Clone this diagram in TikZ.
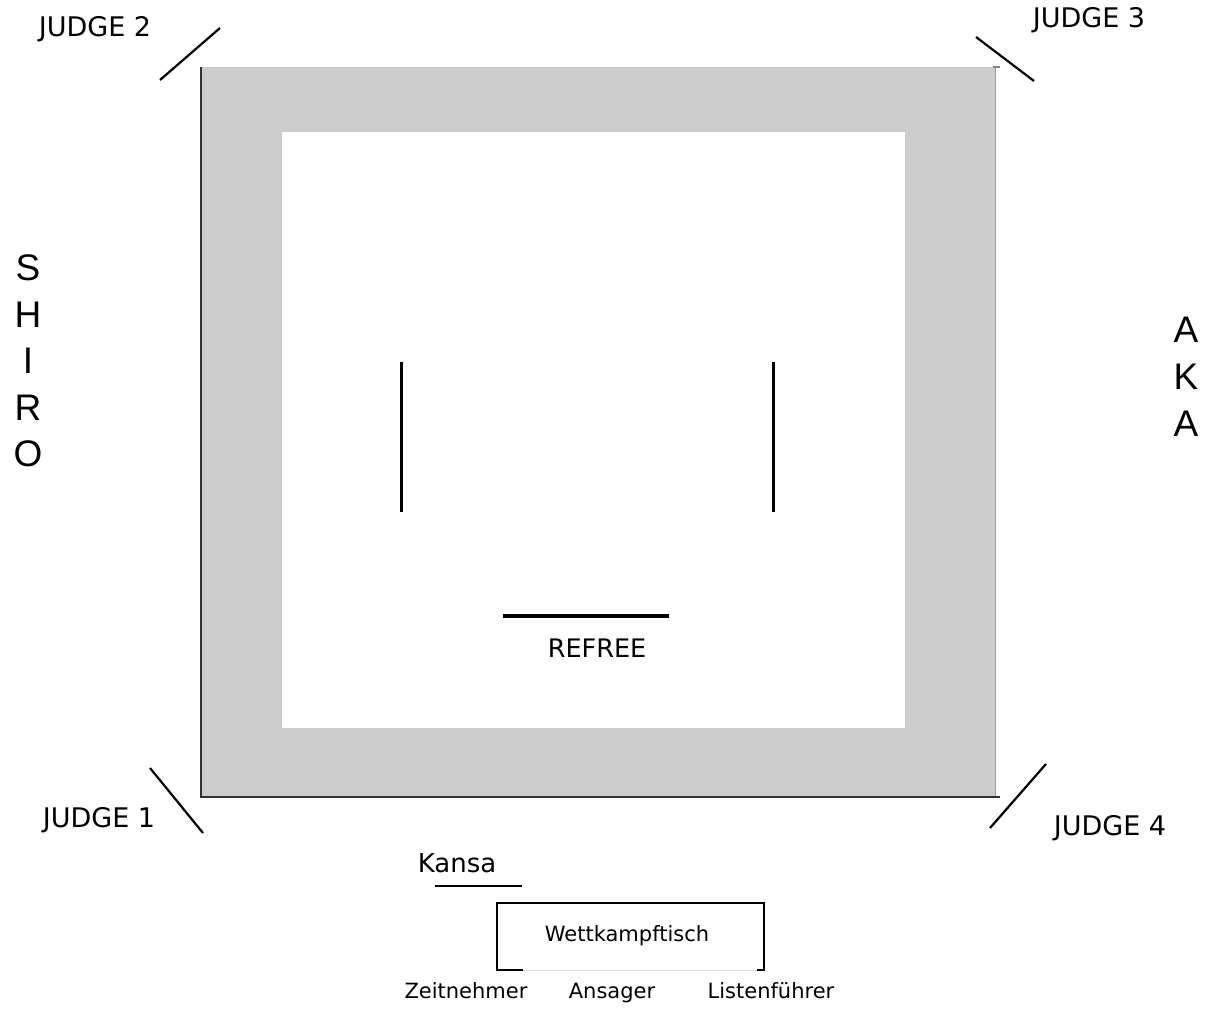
\documentclass[tikz,border=0pt]{standalone}
\usepackage{fontspec}
\setmainfont{DejaVu Sans}
\newfontfamily\cornerfont{Liberation Sans}

\definecolor{matgray}{HTML}{CCCCCC}
\definecolor{edgegray}{HTML}{333333}

\begin{document}
\begin{tikzpicture}[x=1pt, y=-1pt,
        judgetxt/.style={font=\fontsize{27}{30}\selectfont, anchor=base, inner sep=0pt},
        tabletxt/.style={font=\fontsize{21}{24}\selectfont, anchor=base, inner sep=0pt},
        sidetxt/.style={font=\cornerfont\fontsize{37}{40}\selectfont, anchor=base, inner sep=0pt},
        judgeline/.style={black, line width=2.2pt},
        fighterline/.style={black, line width=3pt}]
    \useasboundingbox (0,0) rectangle (1213,1019);

    % mat
    \fill[matgray] (201,67) rectangle (995,797);
    \fill[white] (282,132) rectangle (905,728);
    \draw[gray!80, line width=1pt] (995,68) -- (995,796);
    \draw[edgegray, line width=2.5pt] (201,67) -- (201,797) -- (1000,797);
    \draw[gray, line width=1.5pt] (993,67) -- (1000,67);

    % judges
    \draw[judgeline] (160,80) -- (220,28);
    \draw[judgeline] (976,37) -- (1034,81);
    \draw[judgeline] (150,768) -- (203,833);
    \draw[judgeline] (990,828) -- (1046,764);
    \node[judgetxt] (judge2) at (95,36.5) {JUDGE 2};
    \node[judgetxt] (judge3) at (1089,28) {JUDGE 3};
    \node[judgetxt] (judge1) at (99,827) {JUDGE 1};
    \node[judgetxt] (judge4) at (1110,835) {JUDGE 4};

    % fighters and referee
    \draw[fighterline] (401,362) -- (401,512);
    \draw[fighterline] (773,362) -- (773,512);
    \draw[black, line width=4pt] (503,616) -- (669,616);
    \node[judgetxt, font=\fontsize{25.5}{30}\selectfont] (refree) at (597,657) {REFREE};

    % sides
    \foreach \ltr [count=\i] in {S,H,I,R,O}
        \node[sidetxt] (shiro\i) at (28,{267+46.5*(\i-1)+13.5}) {\ltr};
    \foreach \ltr [count=\i] in {A,K,A}
        \node[sidetxt] (aka\i) at (1186,{329+47*(\i-1)+13.5}) {\ltr};

    % table
    \node[judgetxt, font=\fontsize{26}{30}\selectfont] (kansa) at (457,872) {Kansa};
    \draw[black, line width=2pt] (435,886) -- (522,886);
    \draw[black, line width=2pt] (523,970) -- (497,970) -- (497,903) -- (764,903) -- (764,970) -- (757,970);
    \draw[gray!25, line width=1pt] (523,970) -- (757,970);
    \node[tabletxt] (tisch) at (627,941.5) {Wettkampftisch};
    \node[tabletxt] (zeit) at (466,998) {Zeitnehmer};
    \node[tabletxt] (ansager) at (612,998) {Ansager};
    \node[tabletxt] (liste) at (771,998) {Listenführer};
\end{tikzpicture}
\end{document}
